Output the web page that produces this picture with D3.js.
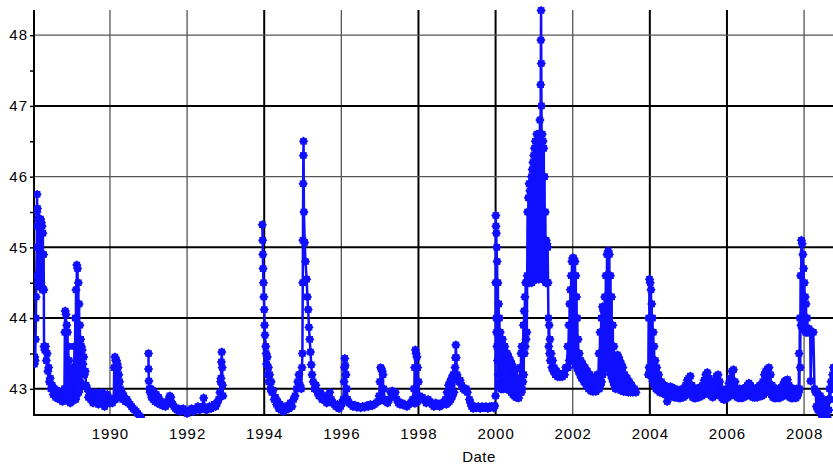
<!DOCTYPE html>
<html>
<head>
<meta charset="utf-8">
<script src="https://cdn.jsdelivr.net/npm/d3@7/dist/d3.min.js"></script>
<style>
body { margin: 0; background: #fff; }
text { font-family: "Liberation Sans", Arial, sans-serif; }
</style>
</head>
<body>
<script>
/*
Water level by date, 1988 - 2008
*/
var yearTicks = [1990, 1992, 1994, 1996, 1998, 2000, 2002, 2004, 2006, 2008];
var levelTicks = [43, 44, 45, 46, 47, 48];
var minorLevelTicks = [43.5, 44.5, 45.5, 46.5, 47.5];

// [decimal year, level]
var seg1988 = [[1988.04,43.35],[1988.05,43.45],[1988.06,43.4],[1988.07,43.7],[1988.08,44.0],[1988.085,44.3],[1988.09,44.6],[1988.1,45.0],[1988.105,45.5],[1988.11,45.75],[1988.115,45.3],[1988.12,45.55],[1988.13,44.5],[1988.14,45.4],[1988.15,44.45],[1988.16,45.4],[1988.17,44.5],[1988.18,45.38],[1988.19,44.45],[1988.2,45.4],[1988.21,44.5],[1988.22,45.35],[1988.23,44.45],[1988.24,45.3],[1988.25,44.4],[1988.26,45.2],[1988.27,44.4],[1988.28,44.9],[1988.285,44.4],[1988.29,43.6],[1988.31,43.55],[1988.33,43.6],[1988.35,43.4],[1988.37,43.5],[1988.39,43.25],[1988.41,43.3],[1988.43,43.1],[1988.45,43.15],[1988.47,43.0],[1988.5,43.05],[1988.53,42.92],[1988.56,43.0],[1988.59,42.88],[1988.62,42.98],[1988.65,42.86],[1988.68,42.95],[1988.71,42.85],[1988.74,42.92],[1988.77,42.82],[1988.8,42.88],
  [1988.82,43.0],[1988.83,43.8],[1988.84,44.1],[1988.85,43.0],[1988.86,44.05],[1988.87,42.95],[1988.88,43.9],[1988.89,42.9],[1988.9,43.8],[1988.91,42.85],[1988.92,43.6],[1988.93,42.85],[1988.94,43.4],[1988.95,42.82],[1988.96,43.2],[1988.97,42.8],[1988.98,43.0],[1989.0,42.82],[1989.02,43.2],[1989.03,42.85],[1989.04,43.3],[1989.06,42.9],[1989.08,43.6],[1989.09,42.9],[1989.1,44.0],[1989.11,42.85],[1989.12,44.4],[1989.13,42.9],[1989.14,44.75],[1989.15,43.0],[1989.16,44.7],[1989.17,43.0],[1989.18,44.5],[1989.19,42.95],[1989.2,44.2],[1989.21,43.0],[1989.22,43.9],[1989.23,43.1],[1989.24,43.7],[1989.25,43.05],[1989.26,43.6],[1989.28,43.55],[1989.3,43.35],[1989.32,43.45],[1989.34,43.2],[1989.36,43.25],[1989.38,43.05],[1989.41,43.0],[1989.44,42.88],[1989.47,42.95],[1989.5,42.85],[1989.53,42.92],[1989.56,42.8],[1989.6,42.9],[1989.63,42.95],[1989.66,42.82],[1989.7,42.78],[1989.73,42.88],[1989.76,42.9],[1989.8,42.95],[1989.83,42.85],[1989.86,42.75],[1989.9,42.82],[1989.93,42.92],[1989.96,42.85],[1990.0,42.8],[1990.03,42.85],[1990.06,42.8],[1990.08,42.85],
  [1990.1,42.85],[1990.11,43.3],[1990.12,42.85],[1990.13,43.45],[1990.14,42.85],[1990.15,43.4],[1990.16,42.9],[1990.17,43.4],[1990.18,42.9],[1990.19,43.35],[1990.2,42.9],[1990.21,43.3],[1990.22,42.9],[1990.23,43.2],[1990.24,42.9],[1990.25,43.1],[1990.27,43.0],[1990.29,42.88],[1990.31,42.95],[1990.33,42.85],[1990.36,42.9],[1990.4,42.82],[1990.44,42.85],[1990.48,42.8],[1990.52,42.78],[1990.56,42.75],[1990.6,42.72],[1990.64,42.7],[1990.68,42.68],[1990.72,42.65],[1990.76,42.62],[1990.8,42.6]];

var seg1991 = [[1991.0,43.5],[1991.0,43.28],[1991.01,43.11],[1991.02,43.0],[1991.04,42.95],[1991.06,43.0],[1991.08,42.88],[1991.1,42.98],[1991.12,42.85],[1991.14,42.95],[1991.17,42.82],[1991.2,42.92],[1991.23,42.8],[1991.26,42.88],[1991.3,42.78],[1991.33,42.82],[1991.37,42.76],[1991.4,42.8],[1991.44,42.75],[1991.48,42.8],[1991.52,42.85],[1991.55,42.9],[1991.58,42.88],[1991.6,42.8],[1991.63,42.78],[1991.66,42.75],[1991.7,42.72],[1991.74,42.7],[1991.78,42.72],[1991.82,42.68],[1991.86,42.7],[1991.9,42.72],
  [1992.0,42.65],[1992.04,42.68],[1992.08,42.7],[1992.12,42.72],[1992.16,42.68],[1992.2,42.7],[1992.24,42.72],[1992.28,42.75],[1992.32,42.7],[1992.36,42.72],[1992.4,42.75],[1992.43,42.87],[1992.46,42.72],[1992.5,42.7],[1992.54,42.72],[1992.58,42.75],[1992.62,42.72],[1992.66,42.75],[1992.7,42.78],[1992.74,42.75],[1992.78,42.8],[1992.82,42.85],[1992.85,42.95],[1992.87,43.1],[1992.88,43.15],[1992.89,43.38],[1992.9,43.52],[1992.91,43.3],[1992.92,43.05],[1992.93,42.9]];

var seg1994 = [[1993.95,45.32],[1993.96,45.1],[1993.965,44.9],[1993.97,44.7],[1993.98,44.5],[1993.99,44.3],[1994.0,44.12],[1994.01,43.9],[1994.02,43.76],[1994.04,43.6],[1994.05,43.5],[1994.06,43.35],[1994.08,43.45],[1994.09,43.2],[1994.11,43.3],[1994.12,43.1],[1994.14,43.2],[1994.16,43.0],[1994.18,43.1],[1994.2,42.95],[1994.23,42.98],[1994.26,42.85],[1994.29,42.88],[1994.32,42.78],[1994.35,42.82],[1994.38,42.72],[1994.41,42.78],[1994.44,42.7],[1994.47,42.75],[1994.5,42.68],[1994.53,42.74],[1994.56,42.7],[1994.6,42.76],[1994.64,42.72],[1994.68,42.8],[1994.72,42.75],[1994.76,42.85],[1994.8,42.9],[1994.84,43.0],[1994.87,43.1],[1994.9,43.2],[1994.93,43.05],[1994.96,43.0],
  [1994.98,43.3],[1994.99,43.5],[1995.0,44.5],[1995.005,45.1],[1995.01,45.9],[1995.015,46.3],[1995.02,46.5],[1995.03,45.5],[1995.05,45.07],[1995.07,44.8],[1995.1,44.55],[1995.12,44.3],[1995.14,44.12],[1995.16,43.87],[1995.18,43.7],[1995.2,43.52],[1995.22,43.34],[1995.24,43.2],[1995.27,43.1],[1995.3,43.0],[1995.34,43.05],[1995.38,42.95],[1995.42,42.9],[1995.46,42.95],[1995.5,42.85],[1995.54,42.9],[1995.58,42.85],[1995.62,42.8],[1995.66,42.9],[1995.7,42.95],[1995.74,42.85],[1995.78,42.8],[1995.82,42.78],[1995.86,42.75],[1995.9,42.78],[1995.94,42.72],[1995.98,42.75],[1996.02,42.8],
  [1996.05,42.85],[1996.07,43.1],[1996.075,42.85],[1996.08,43.3],[1996.085,42.85],[1996.09,43.43],[1996.095,42.85],[1996.1,43.33],[1996.105,42.85],[1996.11,43.2],[1996.115,42.85],[1996.12,43.2],[1996.13,42.85],[1996.14,43.0],[1996.16,42.85],[1996.2,42.8],[1996.25,42.78],[1996.3,42.75],[1996.35,42.77],[1996.4,42.74],[1996.45,42.75],[1996.5,42.73],[1996.55,42.75],[1996.6,42.74],[1996.65,42.76],[1996.7,42.75],[1996.75,42.78],[1996.8,42.76],[1996.85,42.78],[1996.9,42.8],[1996.95,42.82],
  [1996.98,42.9],[1997.0,43.1],[1997.01,42.85],[1997.02,43.3],[1997.03,42.85],[1997.04,43.28],[1997.05,42.85],[1997.06,43.25],[1997.07,42.85],[1997.08,43.2],[1997.09,42.85],[1997.1,43.0],[1997.12,42.85],[1997.16,42.82],[1997.2,42.8],[1997.24,42.85],[1997.28,42.95],[1997.32,42.97],[1997.36,42.9],[1997.4,42.95],[1997.44,42.85],[1997.48,42.8],[1997.52,42.78],[1997.56,42.8],[1997.6,42.77],[1997.65,42.78],[1997.7,42.75],[1997.75,42.78],[1997.8,42.8],[1997.85,42.85],
  [1997.88,43.0],[1997.89,42.8],[1997.9,43.3],[1997.91,42.8],[1997.92,43.55],[1997.93,42.8],[1997.94,43.5],[1997.95,42.82],[1997.96,43.45],[1997.97,42.82],[1997.98,43.3],[1997.99,42.85],[1998.0,43.1],[1998.02,42.9],[1998.05,42.85],[1998.1,42.88],[1998.15,42.85],[1998.2,42.8],[1998.25,42.85],[1998.3,42.82],[1998.35,42.78],[1998.4,42.75],[1998.45,42.8],[1998.5,42.78],[1998.55,42.75],[1998.6,42.8],[1998.65,42.78],
  [1998.7,42.85],[1998.72,42.78],[1998.74,42.95],[1998.76,42.8],[1998.78,43.05],[1998.8,42.82],[1998.82,43.1],[1998.84,42.85],[1998.86,43.15],[1998.88,42.9],[1998.9,43.2],[1998.92,42.95],[1998.95,43.3],[1998.96,43.44],[1998.97,43.62],[1998.98,43.44],[1999.0,43.2],[1999.02,43.15],[1999.05,43.1],[1999.08,43.12],[1999.12,43.05],[1999.16,43.0],[1999.2,42.98],[1999.24,43.0],[1999.27,42.95],
  [1999.32,42.85],[1999.35,42.8],[1999.38,42.75],[1999.42,42.72],[1999.46,42.75],[1999.5,42.73],[1999.55,42.75],[1999.6,42.72],[1999.65,42.75],[1999.7,42.73],[1999.75,42.75],[1999.8,42.72],[1999.85,42.75],[1999.9,42.75],[1999.95,42.73],[1999.98,42.76]];

var seg2000 = [[2000.0,42.9],[2000.003,44.5],[2000.006,45.45],[2000.01,45.3],[2000.015,44.0],[2000.02,45.2],[2000.025,43.8],[2000.03,45.0],[2000.035,43.6],[2000.04,44.8],[2000.05,43.4],[2000.06,44.5],[2000.07,43.2],[2000.08,44.2],[2000.09,43.1],[2000.1,44.0],[2000.11,43.05],[2000.12,43.8],[2000.13,43.0],[2000.14,43.7],[2000.15,43.0],[2000.16,43.65],[2000.17,43.0],[2000.18,43.7],[2000.19,43.05],[2000.2,43.6],[2000.21,43.0],[2000.22,43.55],[2000.23,43.05],[2000.24,43.6],[2000.25,43.05],[2000.26,43.5],[2000.27,43.0],[2000.28,43.45],[2000.29,43.0],[2000.3,43.5],[2000.31,43.05],[2000.32,43.4],[2000.33,43.0],[2000.34,43.45],[2000.35,43.0],[2000.36,43.35],[2000.37,42.98],[2000.38,43.4],[2000.39,42.98],[2000.4,43.3],[2000.41,42.95],[2000.42,43.35],[2000.43,42.95],[2000.44,43.25],[2000.45,42.92],[2000.46,43.3],[2000.47,42.92],[2000.48,43.2],[2000.49,42.9],[2000.5,43.25],[2000.51,42.9],[2000.52,43.15],[2000.53,42.88],[2000.54,43.1],[2000.55,42.88],[2000.56,43.15],[2000.57,42.88],[2000.58,43.05],[2000.6,42.87],[2000.62,43.0],
  [2000.64,43.3],[2000.65,42.95],[2000.66,43.5],[2000.67,42.95],[2000.68,43.6],[2000.69,43.0],[2000.7,43.5],[2000.71,43.1],[2000.72,43.9],[2000.73,43.2],[2000.74,44.1],[2000.75,43.5],[2000.76,44.3],[2000.77,43.6],[2000.78,44.5],[2000.79,43.7],[2000.8,44.5],[2000.81,43.8],
  [2000.82,44.6],[2000.83,45.5],[2000.84,44.5],[2000.85,45.7],[2000.86,44.55],[2000.87,45.9],[2000.88,44.5],[2000.89,45.8],[2000.9,44.6],[2000.91,45.9],[2000.92,44.55],[2000.93,46.0],[2000.94,44.5],[2000.95,46.1],[2000.96,44.6],[2000.97,46.2],[2000.98,44.55],[2000.99,46.3],[2001.0,44.6],[2001.01,46.4],[2001.02,44.55],[2001.03,46.5],[2001.04,44.6],[2001.05,46.4],[2001.06,44.55],[2001.07,46.6],[2001.08,44.6],[2001.09,46.5],[2001.1,44.6],[2001.11,46.6],[2001.12,44.55],[2001.13,46.5],[2001.14,44.6],[2001.15,46.8],[2001.16,44.6],[2001.17,47.3],[2001.175,47.93],[2001.18,48.35],[2001.185,47.6],[2001.19,47.0],[2001.2,44.6],[2001.21,46.6],[2001.22,44.55],[2001.23,46.5],[2001.24,44.6],[2001.25,46.4],[2001.26,44.6],[2001.27,46.0],[2001.28,44.55],[2001.29,45.5],[2001.3,44.5],[2001.31,45.1],[2001.32,44.5],[2001.33,45.05],[2001.34,44.5],[2001.35,45.0],[2001.36,44.5],
  [2001.37,44.0],[2001.38,43.6],[2001.39,43.9],[2001.4,43.5],[2001.41,43.7],[2001.42,43.4],[2001.44,43.5],[2001.46,43.3],[2001.48,43.4],[2001.5,43.25],[2001.52,43.3],[2001.55,43.2],[2001.58,43.25],[2001.61,43.17],[2001.64,43.22],[2001.67,43.17],[2001.7,43.2],[2001.73,43.17],[2001.76,43.22],[2001.79,43.2],[2001.82,43.3],
  [2001.85,43.3],[2001.87,43.6],[2001.88,43.3],[2001.9,43.9],[2001.91,43.4],[2001.92,44.2],[2001.93,43.4],[2001.94,44.4],[2001.95,43.4],[2001.96,44.6],[2001.97,43.45],[2001.98,44.8],[2001.99,43.4],[2002.0,44.85],[2002.01,43.4],[2002.02,44.85],[2002.03,43.4],[2002.04,44.8],[2002.05,43.4],[2002.06,44.8],[2002.07,43.35],[2002.08,44.6],[2002.09,43.35],[2002.1,44.3],[2002.11,43.3],[2002.12,44.0],[2002.13,43.3],[2002.14,43.7],[2002.15,43.25],[2002.17,43.5],[2002.19,43.2],[2002.21,43.4],[2002.23,43.15],[2002.26,43.35],[2002.29,43.1],[2002.32,43.3],[2002.35,43.05],[2002.38,43.25],[2002.41,43.0],[2002.44,43.2],[2002.47,42.97],[2002.5,43.15],[2002.53,42.96],[2002.56,43.1],[2002.6,42.96],[2002.63,43.2],
  [2002.66,43.0],[2002.68,43.5],[2002.69,43.0],[2002.71,43.8],[2002.72,43.05],[2002.74,44.0],[2002.75,43.1],[2002.77,44.16],[2002.78,43.2],[2002.8,44.1],[2002.81,43.3],[2002.83,44.3],[2002.84,43.3],[2002.86,44.6],[2002.87,43.3],[2002.89,44.9],[2002.9,43.35],[2002.92,44.95],[2002.93,43.3],[2002.95,44.9],[2002.96,43.25],[2002.98,44.6],[2002.99,43.2],[2003.01,44.3],[2003.02,43.15],[2003.04,43.9],[2003.05,43.1],[2003.07,43.6],[2003.08,43.05],[2003.1,43.4],[2003.11,43.0],[2003.13,43.45],[2003.14,43.05],[2003.16,43.48],[2003.17,43.05],[2003.19,43.45],[2003.2,43.0],[2003.22,43.4],[2003.24,42.98],[2003.26,43.35],[2003.28,42.98],[2003.3,43.3],[2003.32,42.96],[2003.35,43.2],[2003.38,42.96],[2003.41,43.15],[2003.44,42.95],[2003.47,43.1],[2003.5,42.95],[2003.53,43.05],[2003.56,42.95],[2003.6,43.0],[2003.64,42.95]];

var seg2004 = [[2003.96,43.2],[2003.97,44.0],[2003.98,43.3],[2003.99,44.55],[2004.0,43.3],[2004.01,44.5],[2004.02,43.25],[2004.03,44.4],[2004.04,43.2],[2004.05,44.2],[2004.06,43.15],[2004.07,44.0],[2004.08,43.1],[2004.09,43.8],[2004.1,43.1],[2004.11,43.6],[2004.12,43.05],[2004.14,43.4],[2004.16,43.0],[2004.18,43.3],[2004.2,42.98],[2004.23,43.2],[2004.26,42.95],
  [2004.3,43.1],[2004.32,42.95],[2004.34,43.05],[2004.36,42.93],[2004.38,43.05],[2004.4,42.92],[2004.42,43.02],[2004.45,42.82],[2004.47,42.95],[2004.49,43.02],[2004.51,42.92],[2004.53,43.03],[2004.55,42.9],[2004.57,43.02],[2004.59,42.9],[2004.61,43.0],[2004.63,42.88],[2004.65,43.0],[2004.67,42.88],[2004.69,42.98],[2004.71,42.88],[2004.73,42.98],[2004.75,42.87],[2004.77,42.97],[2004.79,42.87],[2004.81,42.98],[2004.83,42.88],[2004.85,43.0],[2004.87,42.88],[2004.89,43.0],[2004.91,42.9],[2004.93,43.05],[2004.95,42.92],[2004.97,43.12],[2004.99,42.95],[2005.01,43.15],[2005.03,42.95],[2005.05,43.18],[2005.07,42.92],[2005.09,43.05],[2005.11,42.88],[2005.13,42.98],[2005.15,42.87],[2005.17,42.97],[2005.19,42.87],[2005.21,42.98],[2005.23,42.88],[2005.25,43.0],[2005.27,42.88],[2005.29,43.02],[2005.31,42.9],[2005.33,43.0],[2005.35,42.9],[2005.37,43.05],[2005.39,42.92],[2005.41,43.12],[2005.43,42.95],[2005.45,43.2],[2005.47,42.95],[2005.49,43.23],[2005.51,42.95],[2005.53,43.15],[2005.55,42.92],[2005.57,43.05],[2005.59,42.9],[2005.61,43.0],[2005.63,42.88],[2005.65,43.02],[2005.67,42.9],[2005.69,43.1],[2005.71,42.92],[2005.73,43.18],[2005.75,42.95],[2005.77,43.2],[2005.79,42.95],[2005.81,43.1],[2005.83,42.9],[2005.85,43.0],[2005.87,42.87],[2005.89,42.98],[2005.91,42.85],[2005.93,42.97],[2005.95,42.85],[2005.97,42.98],[2005.99,42.87],
  [2006.01,43.0],[2006.03,42.88],[2006.05,43.08],[2006.07,42.9],[2006.09,43.15],[2006.11,42.92],[2006.13,43.25],[2006.15,42.95],[2006.17,43.27],[2006.19,42.95],[2006.21,43.1],[2006.23,42.9],[2006.25,43.0],[2006.27,42.88],[2006.29,42.98],[2006.31,42.87],[2006.33,43.0],[2006.35,42.88],[2006.37,42.98],[2006.39,42.87],[2006.41,43.0],[2006.43,42.88],[2006.45,43.0],[2006.47,42.9],[2006.49,43.02],[2006.51,42.9],[2006.53,43.05],[2006.55,42.92],[2006.57,43.08],[2006.59,42.92],[2006.61,43.05],[2006.63,42.9],[2006.65,43.0],[2006.67,42.88],[2006.69,42.98],[2006.71,42.88],[2006.73,43.0],[2006.75,42.88],[2006.77,43.0],[2006.79,42.88],[2006.81,43.02],[2006.83,42.9],[2006.85,43.05],[2006.87,42.9],[2006.89,43.05],[2006.91,42.9],[2006.93,43.1],[2006.95,42.92],[2006.97,43.2],[2006.99,42.95],
  [2007.01,43.25],[2007.03,42.95],[2007.05,43.28],[2007.07,42.97],[2007.09,43.3],[2007.11,42.95],[2007.13,43.2],[2007.15,42.92],[2007.17,43.05],[2007.19,42.88],[2007.21,43.0],[2007.23,42.87],[2007.25,42.98],[2007.27,42.87],[2007.29,43.0],[2007.31,42.88],[2007.33,42.98],[2007.35,42.87],[2007.37,43.0],[2007.39,42.88],[2007.41,43.02],[2007.43,42.9],[2007.45,43.05],[2007.47,42.9],[2007.49,43.1],[2007.51,42.92],[2007.53,43.12],[2007.55,42.92],[2007.57,43.13],[2007.59,42.9],[2007.61,43.05],[2007.63,42.88],[2007.65,43.0],[2007.67,42.87],[2007.69,42.98],[2007.71,42.87],[2007.73,43.0],[2007.75,42.88],[2007.77,42.98],[2007.79,42.87],[2007.81,43.0],[2007.83,42.9],
  [2007.86,42.95],[2007.87,43.5],[2007.88,43.0],[2007.89,44.0],[2007.9,43.3],[2007.91,44.6],[2007.92,43.9],[2007.93,45.1],[2007.94,43.9],[2007.95,45.05],[2007.96,43.85],[2007.97,44.9],[2007.98,43.85],[2007.99,44.7],[2008.0,43.85],[2008.01,44.5],[2008.02,43.85],[2008.03,44.3],[2008.04,43.8],[2008.05,44.2],[2008.06,43.8],[2008.08,44.0],[2008.1,43.8],[2008.13,43.85],[2008.16,43.79],[2008.17,43.11],[2008.2,43.8],[2008.24,43.8],[2008.27,43.0],
  [2008.3,42.95],[2008.32,42.75],[2008.34,42.95],[2008.36,42.7],[2008.38,42.9],[2008.4,42.7],[2008.42,42.9],[2008.44,42.65],[2008.46,42.85],[2008.48,42.6],[2008.5,42.8],[2008.52,42.58],[2008.54,42.75],[2008.56,42.55],[2008.58,42.7],[2008.6,42.6],[2008.62,42.85],[2008.64,42.7],[2008.66,43.0],[2008.68,42.85],[2008.7,43.1],[2008.72,43.0],[2008.74,43.2],[2008.76,43.3]];

var segments = [seg1988, seg1991, seg1994, seg2000, seg2004];

/*
Svg Width and Height
*/
var width = 833,
    height = 468;

var plotLeft = 34, plotRight = 833, plotTop = 9, plotBottom = 415;

var svg = d3.select("body").append("svg")
    .attr("width", width)
    .attr("height", height);

var x = d3.scaleLinear()
    .domain([1988.03, 2008.75])
    .range([plotLeft, plotRight]);

var y = d3.scaleLinear()
    .domain([42.63, 48.37])
    .range([plotBottom, plotTop]);

// heavier grid lines, as they come out in the picture
var heavyYears = [1994, 1998, 2000, 2004, 2006];
var heavyLevels = [43, 44, 45, 47];

svg.append("g")
    .selectAll("line")
    .data(yearTicks)
    .enter().append("line")
    .attr("x1", function(d){ return x(d); })
    .attr("x2", function(d){ return x(d); })
    .attr("y1", plotTop + 1)
    .attr("y2", plotBottom)
    .attr("stroke", function(d){ return heavyYears.indexOf(d) >= 0 ? "#000" : "#555"; })
    .attr("stroke-width", function(d){ return heavyYears.indexOf(d) >= 0 ? 2 : 1.3; });

svg.append("g")
    .selectAll("line")
    .data(levelTicks)
    .enter().append("line")
    .attr("x1", plotLeft)
    .attr("x2", plotRight)
    .attr("y1", function(d){ return y(d); })
    .attr("y2", function(d){ return y(d); })
    .attr("stroke", function(d){ return heavyLevels.indexOf(d) >= 0 ? "#000" : "#555"; })
    .attr("stroke-width", function(d){ return heavyLevels.indexOf(d) >= 0 ? 2 : 1.3; });

// axes
var yAxis = d3.axisLeft(y)
    .tickValues(levelTicks)
    .tickSize(4)
    .tickFormat(d3.format("d"));

var yAxisG = svg.append("g")
    .attr("transform", "translate(" + plotLeft + ",0)")
    .call(yAxis);
yAxisG.select(".domain").remove();
yAxisG.selectAll("text")
    .attr("x", -6)
    .attr("font-size", 15)
    .attr("letter-spacing", 1)
    .attr("fill", "#000");
yAxisG.selectAll("line").attr("stroke-width", 1.5);

svg.append("g")
    .attr("transform", "translate(" + plotLeft + ",0)")
    .call(d3.axisLeft(y).tickValues(minorLevelTicks).tickSize(4).tickFormat(""))
    .call(function(g){ g.select(".domain").remove(); g.selectAll("line").attr("stroke-width", 1.5); });

var xAxis = d3.axisBottom(x)
    .tickValues(yearTicks)
    .tickSize(0)
    .tickPadding(13)
    .tickFormat(d3.format("d"));

var xAxisG = svg.append("g")
    .attr("transform", "translate(0," + plotBottom + ")")
    .call(xAxis);
xAxisG.select(".domain").remove();
xAxisG.selectAll("text")
    .attr("font-size", 15)
    .attr("letter-spacing", 1)
    .attr("fill", "#000");

svg.append("line")
    .attr("x1", plotLeft).attr("x2", plotLeft)
    .attr("y1", plotTop + 1).attr("y2", plotBottom + 1)
    .attr("stroke", "#000")
    .attr("stroke-width", 2);

svg.append("line")
    .attr("x1", plotLeft).attr("x2", plotRight)
    .attr("y1", plotBottom).attr("y2", plotBottom)
    .attr("stroke", "#000")
    .attr("stroke-width", 2);

svg.append("text")
    .attr("x", 479)
    .attr("y", 462)
    .attr("text-anchor", "middle")
    .attr("font-size", 15)
    .attr("letter-spacing", 0.5)
    .attr("fill", "#000")
    .text("Date");

// data
svg.append("clipPath")
    .attr("id", "plot")
    .append("rect")
    .attr("x", plotLeft)
    .attr("y", 0)
    .attr("width", plotRight - plotLeft)
    .attr("height", plotBottom + 3);

var plot = svg.append("g").attr("clip-path", "url(#plot)");

var line = d3.line()
    .x(function(d){ return x(d[0]); })
    .y(function(d){ return y(d[1]); });

plot.selectAll("path.series")
    .data(segments)
    .enter().append("path")
    .attr("class", "series")
    .attr("fill", "none")
    .attr("stroke", "#1010ff")
    .attr("stroke-width", 2.5)
    .attr("stroke-linejoin", "round")
    .attr("d", line);

var square = d3.symbol().type(d3.symbolSquare).size(44);

var allPoints = d3.merge(segments);

var marks = plot.append("g")
    .selectAll("g")
    .data(allPoints)
    .enter().append("g")
    .attr("transform", function(d){ return "translate(" + x(d[0]) + "," + y(d[1]) + ")"; });

marks.append("path")
    .attr("d", square)
    .attr("fill", "#1010ff");

marks.append("path")
    .attr("d", square)
    .attr("transform", "rotate(45)")
    .attr("fill", "#1010ff");
</script>
</body>
</html>
